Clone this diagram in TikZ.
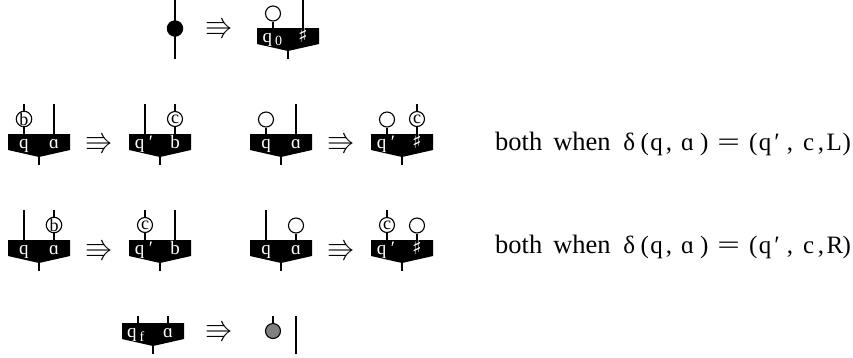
\documentclass[tikz,border=0pt]{standalone}
\usepackage{fontspec}
\usepackage{graphicx}
\usepackage{amssymb}
\setmainfont{Liberation Serif}
\newfontfamily\symf{DejaVu Sans}
\usetikzlibrary{calc}
\definecolor{midgrey}{gray}{0.5}
\tikzset{
  wire/.style={line width=1.2pt,black},
  ring/.style={circle,draw=black,line width=1.1pt,fill=white,minimum size=15pt,inner sep=0pt,font=\fontsize{18}{18}\selectfont},
  gatebody/.style={fill=black,draw=none},
  gatelabel/.style={text=white,font=\fontsize{19}{19}\selectfont,inner sep=0pt,anchor=base},
  implies/.style={font=\fontsize{28}{28}\selectfont,inner sep=0pt},
  caption/.style={font=\fontsize{25}{25}\selectfont,inner sep=0pt,anchor=base west},
}
% name, centre x, top y, left label, right label
\newcommand{\tgate}[5]{%
  \fill[gatebody] (#2-31,#3) -- (#2+31,#3) -- (#2+31,#3+16) -- (#2,#3+23) -- (#2-31,#3+16) -- cycle;
  \coordinate (#1L) at (#2-15,#3);
  \coordinate (#1R) at (#2+15,#3);
  \coordinate (#1T) at (#2,#3+23);
  \coordinate (#1B) at (#2,#3+31);
  \draw[wire] (#1T) -- (#1B);
  \node[gatelabel] (#1a) at (#2-15,#3+14) {#4};
  \node[gatelabel] (#1b) at (#2+15,#3+14) {#5};
}
\newcommand{\plainwire}[2]{%
  \coordinate (#1top) at ($(#1)+(0,-#2)$);
  \draw[wire] (#1) -- (#1top);
}
\newcommand{\barering}[1]{%
  \node[ring] (#1c) at ($(#1)+(0,-14.5)$) {};
  \draw[wire] (#1) -- (#1c);
}
\newcommand{\symring}[2]{%
  \coordinate (#1e) at ($(#1)+(0,-30)$);
  \draw[wire] (#1) -- (#1e);
  \node[ring] (#1c) at ($(#1)+(0,-15)$) {#2};
}
\newcommand{\qprime}{\makebox[0pt]{\hspace{-11pt}q}\makebox[0pt]{\hspace{12pt}′}}
\newcommand{\sharpsym}{{\symf\fontsize{20}{20}\selectfont ♯}}
\newcommand{\trip}{$\Rrightarrow$}
\newcommand{\capt}[3]{%
  \node[caption] (#1) at (495,#2) {{\fontsize{26.5}{26.5}\selectfont both\hspace{11pt}when}\hspace{12.6pt}δ\hspace{5.5pt}(\hspace{1.5pt}q\hspace{3pt},\hspace{9pt}ɑ\hspace{6pt})\hspace{8.7pt}\scalebox{1.6}[1]{=}\hspace{9.4pt}(\hspace{1.4pt}q\hspace{3pt}′\hspace{7pt},\hspace{10pt}c\hspace{3.5pt},\hspace{2.5pt}\makebox[15pt][l]{#3}\hspace{1pt})};
}
\begin{document}
\begin{tikzpicture}[x=1pt,y=-1pt]
\useasboundingbox (0,0) rectangle (853,357);
% row 1
\coordinate (st) at (175,0);
\coordinate (sb) at (175,58.5);
\draw[wire] (st) -- (sb);
\node[circle,fill=black,minimum size=16.5pt,inner sep=0pt] (sd) at (175,28.5) {};
\node[implies] (i0) at (219,28.5) {\trip};
\tgate{a}{288}{28}{}{\sharpsym}
\node[gatelabel,anchor=base west] (a0) at (262.5,42) {q\hspace{3pt}\raisebox{-3pt}{\fontsize{14}{14}\selectfont 0}};
\barering{aL}
\plainwire{aR}{28}
% row 2
\tgate{b}{39}{134}{q}{ɑ}
\symring{bL}{b}
\plainwire{bR}{30}
\node[implies] (i1) at (99,143) {\trip};
\tgate{c}{160}{134}{\qprime}{b}
\plainwire{cL}{30}
\symring{cR}{c}
\tgate{d}{281}{134}{q}{ɑ}
\barering{dL}
\plainwire{dR}{30}
\node[implies] (i2) at (341,143) {\trip};
\tgate{e}{402}{134}{\qprime}{\sharpsym}
\barering{eL}
\symring{eR}{c}
\capt{c1}{150}{L}
% row 3
\tgate{f}{39}{240}{q}{ɑ}
\plainwire{fL}{30}
\symring{fR}{b}
\node[implies] (i3) at (99,250) {\trip};
\tgate{g}{160}{240}{\qprime}{b}
\symring{gL}{c}
\plainwire{gR}{30}
\tgate{h}{281}{240}{q}{ɑ}
\plainwire{hL}{30}
\barering{hR}
\node[implies] (i4) at (341,250) {\trip};
\tgate{k}{402}{240}{\qprime}{\sharpsym}
\symring{kL}{c}
\barering{kR}
\capt{c2}{253}{R}
% row 4
\tgate{m}{153}{323}{}{ɑ}
\node[gatelabel,anchor=base west] (m0) at (127,337) {q\hspace{3pt}\raisebox{-4pt}{\fontsize{14}{14}\selectfont f}};
\plainwire{mL}{7}
\plainwire{mR}{7}
\node[implies] (i5) at (219,331) {\trip};
\coordinate (ht) at (273,316);
\node[circle,draw=black,line width=1.1pt,fill=midgrey,minimum size=15pt,inner sep=0pt] (hd) at (273,331) {};
\draw[wire] (ht) -- (hd);
\coordinate (wt) at (296,316);
\coordinate (wb) at (296,354);
\draw[wire] (wt) -- (wb);
\end{tikzpicture}
\end{document}
